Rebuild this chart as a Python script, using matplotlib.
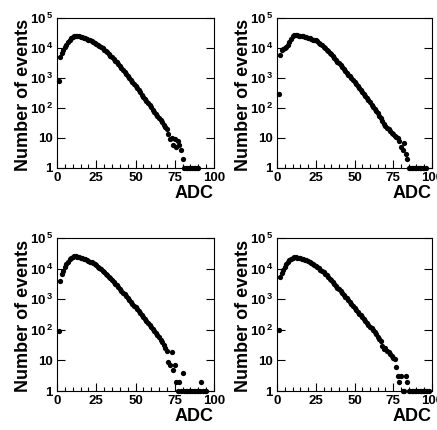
import numpy as np
import matplotlib
matplotlib.use("Agg")
import matplotlib.pyplot as plt
from matplotlib.ticker import MultipleLocator, LogLocator, NullFormatter

plt.rcParams["font.family"] = ["Liberation Sans", "DejaVu Sans"]
plt.rcParams["font.weight"] = "bold"
plt.rcParams["mathtext.fontset"] = "custom"
plt.rcParams["mathtext.rm"] = "Liberation Sans:bold"
plt.rcParams["mathtext.bf"] = "Liberation Sans:bold"
plt.rcParams["mathtext.it"] = "Liberation Sans:bold"

# ADC spectra (counts per ADC channel)
counts_tl = [800, 5200, 6800, 8500, 10500, 13000, 15500, 18500, 21000, 23000,
             24500, 25000, 24800, 24200, 23500, 22600, 21800, 20800, 19800, 18800,
             17800, 16800, 15800, 14800, 13800, 12700, 11700, 10700, 9700, 8800,
             7900, 7100, 6300, 5600, 4950, 4350, 3800, 3300, 2850, 2450,
             2100, 1800, 1550, 1330, 1140, 980, 840, 720, 620, 530,
             450, 385, 330, 280, 240, 205, 175, 148, 125, 105,
             89, 76, 64, 54, 46, 39, 33, 28, 24, 20,
             14, 9, 10, 6, 9, 5, 8, 6, 4, 2,
             1, 1, 1, 1, 1, 1, 1, 1, 1, 1]

counts_tr = [300, 6000, 8500, 9500, 9800, 10500, 12500, 16000, 20500, 24500,
             26500, 27000, 26500, 26000, 25500, 25000, 24500, 23800, 23000, 22000,
             21000, 20000, 19000, 18500, 18000, 16500, 15000, 13600, 12300, 11000,
             9900, 8800, 7800, 6900, 6100, 5300, 4650, 4000, 3500, 3050,
             2650, 2300, 2000, 1750, 1500, 1300, 1130, 980, 850, 740,
             640, 550, 470, 400, 345, 295, 250, 215, 180, 155,
             130, 112, 95, 80, 66, 56, 47, 36, 30, 25,
             22, 20, 17, 15, 14, 12, 11, 10, 8, 5,
             4, 7, 3, 2, 1, 1, 1, 1, 1, 1,
             1, 1, 1, 1, 1, 1]

counts_bl = [90, 4000, 6500, 8500, 11000, 14000, 17000, 20000, 22500, 24000,
             25000, 25000, 24500, 23800, 23000, 22000, 21000, 20000, 19000, 18000,
             17000, 16000, 15000, 14000, 12800, 11700, 10600, 9600, 8600, 7700,
             6900, 6100, 5400, 4800, 4200, 3700, 3250, 2850, 2500, 2180,
             1900, 1650, 1430, 1240, 1070, 930, 810, 710, 620, 560,
             480, 410, 355, 305, 265, 230, 198, 170, 147, 127,
             108, 93, 80, 68, 58, 48, 40, 32, 26, 20,
             9, 7, 19, 5, 7, 2, 1, 2, 1, 4,
             1, 1, 1, 1, 1, 1, 1, 1, 1, 1,
             1, 2, 1, 1, 1]

counts_br = [100, 5200, 7000, 9000, 11500, 14000, 16500, 19000, 21000, 22500,
             23500, 23500, 23000, 22500, 21800, 21000, 20200, 19400, 18500, 17600,
             16600, 15600, 14600, 13500, 12400, 11300, 10300, 9300, 8400, 7500,
             6700, 5950, 5250, 4650, 4100, 3600, 3150, 2750, 2400, 2100,
             1830, 1600, 1400, 1220, 1060, 920, 800, 700, 610, 530,
             460, 395, 340, 295, 255, 220, 190, 165, 145, 128,
             112, 98, 85, 72, 60, 50, 42, 30, 24, 25,
             20, 19, 16, 14, 12, 11, 6, 3, 2, 3,
             1, 1, 3, 2, 1, 1, 1, 1, 1, 1,
             1, 1, 1, 1, 1, 1, 1, 1]

panels = [counts_tl, counts_tr, counts_bl, counts_br]

ytick_vals = [1, 10, 100, 1000, 10000, 100000]
ytick_labels = ["1", "10", r"$10^{\,2}$", r"$10^{\,3}$", r"$10^{\,4}$", r"$10^{\,5}$"]
xtick_vals = [0, 25, 50, 75, 100]
xtick_labels = ["0", "25", "50", "75", "100"]

W, H = 437, 430
fig = plt.figure(figsize=(W / 100, H / 100), dpi=100)

# axes boxes in pixels: left, top, right, bottom
boxes = [(57, 18, 214, 168), (277, 18, 432, 168),
         (57, 238, 214, 391), (277, 238, 432, 391)]

for counts, (l, t, r, b) in zip(panels, boxes):
    ax = fig.add_axes([l / W, 1 - b / H, (r - l) / W, (b - t) / H])
    adc = np.arange(1, len(counts) + 1)
    ax.plot(adc, counts, "o", color="black", ms=3.8, mew=0, clip_on=False)
    ax.set_yscale("log")
    ax.set_xlim(0, 100)
    ax.set_ylim(1, 1e5)
    ax.set_yticks(ytick_vals)
    ax.set_yticklabels(ytick_labels)
    ax.yaxis.set_minor_locator(LogLocator(base=10, subs=np.arange(2, 10)))
    ax.yaxis.set_minor_formatter(NullFormatter())
    ax.set_xticks(xtick_vals)
    ax.set_xticklabels(xtick_labels)
    ax.xaxis.set_minor_locator(MultipleLocator(5))
    ax.tick_params(which="both", direction="in", labelsize=9.5,
                   width=0.8, right=True, top=False)
    ax.tick_params(which="major", length=6, pad=3)
    ax.tick_params(which="minor", length=3)
    for s in ax.spines.values():
        s.set_linewidth(0.8)
    ax.set_ylabel("Number of events", fontsize=13, fontweight="bold")
    ax.yaxis.set_label_coords(-0.16, 0.49)
    ax.text(1.0, -0.11, "ADC", transform=ax.transAxes, ha="right", va="top",
            fontsize=13, fontweight="bold")

fig.savefig("out.png", dpi=100)
